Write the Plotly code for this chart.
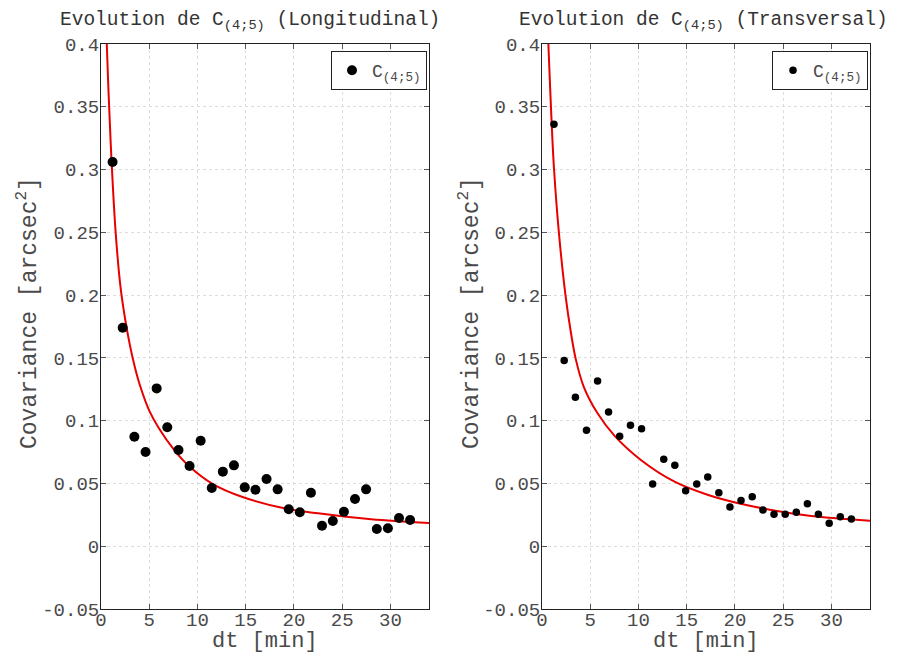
import plotly.graph_objects as go

# ---- data ----
dt_long = [1.20, 2.25, 3.46, 4.62, 5.77, 6.87, 8.03, 9.18, 10.33, 11.48, 12.63, 13.78,
           14.90, 16.01, 17.16, 18.31, 19.46, 20.61, 21.76, 22.91, 24.03, 25.18,
           26.33, 27.48, 28.59, 29.74, 30.89, 32.04]
cov_long = [0.306, 0.174, 0.0872, 0.0750, 0.1257, 0.0947, 0.0766, 0.0639, 0.0840,
            0.0464, 0.0594, 0.0644, 0.0469, 0.0450, 0.0535, 0.0453, 0.0294, 0.0270,
            0.0426, 0.0163, 0.0201, 0.0275, 0.0376, 0.0453, 0.0137, 0.0143, 0.0225,
            0.0209]

dt_trans = [1.24, 2.30, 3.46, 4.61, 5.76, 6.90, 8.05, 9.17, 10.32, 11.47, 12.62, 13.77,
            14.89, 16.04, 17.18, 18.33, 19.48, 20.63, 21.79, 22.90, 24.05, 25.21,
            26.36, 27.51, 28.65, 29.77, 30.92, 32.07]
cov_trans = [0.336, 0.148, 0.1186, 0.0923, 0.1316, 0.1069, 0.0875, 0.0963, 0.0936,
             0.0495, 0.0692, 0.0644, 0.0442, 0.0495, 0.0551, 0.0426, 0.0312, 0.0365,
             0.0394, 0.0288, 0.0254, 0.0254, 0.0270, 0.0339, 0.0254, 0.0182, 0.0235,
             0.0217]

fit_long_dt = [0.55, 0.6, 0.8, 1.1, 1.5, 2.0, 2.5, 3.0, 3.5, 4.0, 5.0, 6.0, 7.6, 9.2,
               11.6, 14.6, 19.0, 22.5, 28.0, 34.0]
fit_long_cov = [0.41, 0.40, 0.358, 0.306, 0.252, 0.208, 0.181, 0.160, 0.143, 0.129,
                0.108, 0.094, 0.0766, 0.0633, 0.0495, 0.0394, 0.0302, 0.0262, 0.0215,
                0.0185]

fit_trans_dt = [0.6, 0.66, 1.0, 1.25, 1.76, 2.45, 3.0, 3.5, 4.33, 5.71, 7.46, 10.25,
                13.74, 17.23, 20.7, 24.2, 27.7, 34.0]
fit_trans_cov = [0.411, 0.40, 0.337, 0.300, 0.249, 0.199, 0.170, 0.149, 0.127, 0.1065,
                 0.0885, 0.0687, 0.0514, 0.0408, 0.0336, 0.0283, 0.0243, 0.0203]

x_tickvals = [0, 5, 10, 15, 20, 25, 30]
y_tickvals = [-0.05, 0, 0.05, 0.1, 0.15, 0.2, 0.25, 0.3, 0.35, 0.4]
y_ticktext = ["-0.05", "0", "0.05", "0.1", "0.15", "0.2", "0.25", "0.3", "0.35", "0.4"]

FONT = "Liberation Mono, Courier New, monospace"
TXT = "#4a4a4a"
OFF = 8                      # page body margin of the exported html
W, H = 904 - OFF, 657 - OFF  # figure size so that it fills the visible window


def fx(px):
    return (px - OFF) / W


def fy(py):
    return 1 - (py - OFF) / H


fig = go.Figure()

fig.add_trace(go.Scatter(x=fit_long_dt, y=fit_long_cov, mode="lines",
                         line=dict(color="#e80000", width=2, shape="spline", smoothing=1.0),
                         showlegend=False, xaxis="x", yaxis="y", hoverinfo="skip"))
fig.add_trace(go.Scatter(x=dt_long, y=cov_long, mode="markers",
                         marker=dict(color="black", size=10),
                         name="C<sub>(4;5)</sub>", xaxis="x", yaxis="y", legend="legend"))

fig.add_trace(go.Scatter(x=fit_trans_dt, y=fit_trans_cov, mode="lines",
                         line=dict(color="#e80000", width=2, shape="spline", smoothing=1.0),
                         showlegend=False, xaxis="x2", yaxis="y2", hoverinfo="skip"))
fig.add_trace(go.Scatter(x=dt_trans, y=cov_trans, mode="markers",
                         marker=dict(color="black", size=7.5),
                         name="C<sub>(4;5)</sub>", xaxis="x2", yaxis="y2", legend="legend2"))

ydom = [fy(609), fy(44)]


def xax(dom, anchor):
    return dict(domain=dom, anchor=anchor, range=[0, 34], tickmode="array",
                tickvals=x_tickvals, ticks="inside", ticklen=5, tickcolor="#555",
                showline=True, linecolor="#222", linewidth=1, mirror="ticks",
                showgrid=True, gridcolor="#dcdcdc", griddash="dot", gridwidth=1,
                zeroline=False, automargin=False, ticklabelstandoff=-7,
                tickfont=dict(family=FONT, size=19, color=TXT))


def yax(anchor):
    return dict(domain=ydom, anchor=anchor, range=[-0.05, 0.4], tickmode="array",
                tickvals=y_tickvals, ticktext=y_ticktext, ticks="inside", ticklen=5,
                tickcolor="#555", showline=True, linecolor="#222", linewidth=1,
                mirror="ticks", showgrid=True, gridcolor="#dcdcdc", griddash="dot",
                gridwidth=1, zeroline=False, automargin=False, ticklabelstandoff=-3,
                tickfont=dict(family=FONT, size=19, color=TXT))


leg_common = dict(xanchor="right", yanchor="top", bgcolor="white",
                  bordercolor="#222", borderwidth=1,
                  font=dict(family=FONT, size=18, color=TXT),
                  itemsizing="trace", tracegroupgap=0, entrywidth=62)

fig.update_layout(
    width=W, height=H, margin=dict(l=0, r=0, t=0, b=0, pad=0, autoexpand=False),
    paper_bgcolor="white", plot_bgcolor="white",
    xaxis=xax([fx(101), fx(429)], "y"),
    yaxis=yax("x"),
    xaxis2=xax([fx(542), fx(870)], "y2"),
    yaxis2=yax("x2"),
    legend=dict(x=fx(427), y=fy(51), **leg_common),
    legend2=dict(x=fx(868), y=fy(51), **leg_common),
    showlegend=True,
)

ann = []
for cx, label in [(250, "Longitudinal"), (703, "Transversal")]:
    ann.append(dict(text="Evolution de C<sub>(4;5)</sub> (" + label + ")",
                    x=fx(cx), y=fy(21), xref="paper", yref="paper",
                    xanchor="center", yanchor="middle", showarrow=False,
                    font=dict(family=FONT, size=19.5, color="#333")))
for cx in [265, 706]:
    ann.append(dict(text="dt [min]", x=fx(cx), y=fy(641), xref="paper", yref="paper",
                    xanchor="center", yanchor="middle", showarrow=False,
                    font=dict(family=FONT, size=22, color=TXT)))
for cx in [28, 470]:
    ann.append(dict(text="Covariance [arcsec<sup>2</sup>]", x=fx(cx), y=fy(313),
                    xref="paper", yref="paper", xanchor="center", yanchor="middle",
                    textangle=-90, showarrow=False,
                    font=dict(family=FONT, size=23, color=TXT)))
fig.update_layout(annotations=ann)

fig.write_html("out.html")
